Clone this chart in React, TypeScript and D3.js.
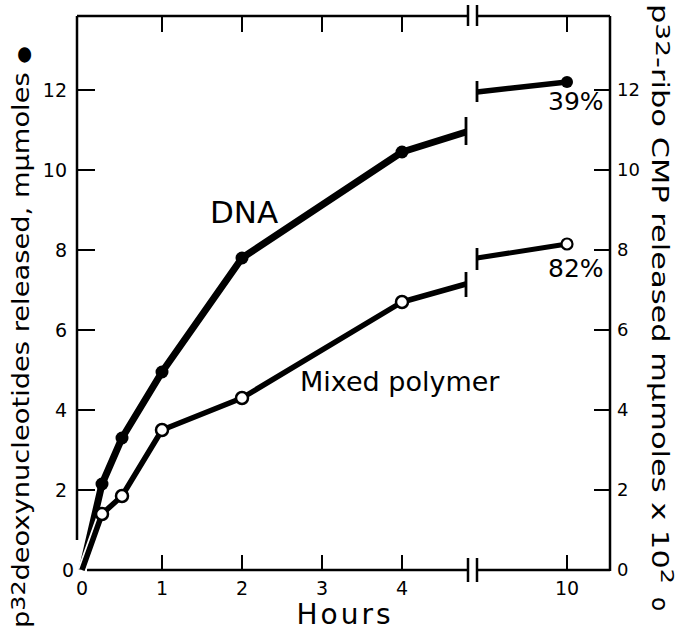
import React from "react";
import * as d3 from "d3";

// ---- data ----
const hoursEarly = [0, 0.25, 0.5, 1, 2, 4];
const dnaEarly = [0, 2.15, 3.3, 4.95, 7.8, 10.45];
const mixedEarly = [0, 1.4, 1.85, 3.5, 4.3, 6.7];
// line continuation before the axis break
const breakHour = 4.8;
const dnaBreak = 10.95;
const mixedBreak = 7.15;
// segment after the axis break
const resumeHour = 8;
const dnaResume = 11.95;
const mixedResume = 7.8;
const finalHour = 10;
const dnaFinal = 12.2;
const mixedFinal = 8.15;
const percentLabels = ["39%", "82%"];

const xTickValues = [0, 1, 2, 3, 4, 10];
const yTickValues = [0, 2, 4, 6, 8, 10, 12];

const FONT = "DejaVu Sans, sans-serif";

export default function App() {
  const W = 682;
  const H = 631;
  const x = d3.scaleLinear().domain([0, breakHour, resumeHour, finalHour]).range([82, 466, 477, 567]);
  const y = d3.scaleLinear().domain([0, 12]).range([570, 90]);

  const top = 16;
  const bottom = y(0);
  const left = 77;
  const right = 610;
  const brk1 = 468;
  const brk2 = 477;

  const line = d3.line<[number, number]>().x((d) => x(d[0])).y((d) => y(d[1]));

  const dnaPts: [number, number][] = hoursEarly.map((h, i) => [h, dnaEarly[i]]);
  const mixPts: [number, number][] = hoursEarly.map((h, i) => [h, mixedEarly[i]]);
  const dnaLeftPath = line([...dnaPts, [breakHour, dnaBreak]]);
  const mixLeftPath = line([...mixPts, [breakHour, mixedBreak]]);
  const dnaRightPath = line([[resumeHour, dnaResume], [finalHour, dnaFinal]]);
  const mixRightPath = line([[resumeHour, mixedResume], [finalHour, mixedFinal]]);

  return (
    <svg width={W} height={H} style={{ position: "absolute", left: 0, top: 0, background: "#fff" }} fontFamily={FONT}>
      <rect width={W} height={H} fill="#fff" />
      {/* frame */}
      <g stroke="#000" strokeWidth={2.5} fill="none">
        <line x1={left} y1={top} x2={left} y2={540} />
        <line x1={right} y1={top} x2={right} y2={bottom + 1} />
        <line x1={left} y1={top} x2={brk1} y2={top} />
        <line x1={brk2} y1={top} x2={right} y2={top} />
        <line x1={87} y1={bottom} x2={brk1} y2={bottom} />
        <line x1={brk2} y1={bottom} x2={right} y2={bottom} />
        {[brk1, brk2].map((bx) => (
          <g key={bx}>
            <line x1={bx} y1={top - 11} x2={bx} y2={top + 10} />
            <line x1={bx} y1={bottom - 12} x2={bx} y2={bottom + 12} />
          </g>
        ))}
        {xTickValues.filter((v) => v > 0).map((v) => (
          <g key={"xt" + v}>
            <line x1={x(v)} y1={bottom} x2={x(v)} y2={bottom - 15} strokeWidth={2} />
            <line x1={x(v)} y1={top} x2={x(v)} y2={top + 16} strokeWidth={2} />
          </g>
        ))}
        {yTickValues.filter((v) => v > 0).map((v) => (
          <g key={"yt" + v}>
            <line x1={left} y1={y(v)} x2={left + 18} y2={y(v)} strokeWidth={2} />
            <line x1={right} y1={y(v)} x2={right - 16} y2={y(v)} strokeWidth={2} />
          </g>
        ))}
      </g>

      {/* tick labels */}
      {xTickValues.map((v) => (
        <text key={"xl" + v} x={x(v)} y={595} fontSize={19} textAnchor="middle">{v}</text>
      ))}
      {yTickValues.map((v) => (
        <text key={"yl" + v} x={v === 0 ? 74 : 67} y={y(v) + 7} fontSize={19} textAnchor="end">{v}</text>
      ))}
      {yTickValues.map((v) => (
        <text key={"yr" + v} x={617} y={y(v) + 6} fontSize={18} textAnchor="start">{v}</text>
      ))}

      {/* axis titles */}
      <text x={345} y={624} fontSize={28} textAnchor="middle" letterSpacing={3}>Hours</text>
      <text transform="translate(29,628) rotate(-90)" fontSize={23} textLength={582} lengthAdjust="spacingAndGlyphs">
        p<tspan fontSize={20} dy={-4}>32</tspan><tspan dy={4}>deoxynucleotides released, mμmoles </tspan><tspan fontSize={17}>●</tspan>
      </text>
      <text transform="translate(652,4) rotate(90)" fontSize={23} textLength={580} lengthAdjust="spacingAndGlyphs">
        p<tspan fontSize={20} dy={-4}>32</tspan><tspan dy={4}>-ribo CMP released  mμmoles x 10</tspan><tspan fontSize={18} dy={-9}>2</tspan>
      </text>
      <text transform="translate(652,597) rotate(90)" fontSize={23}>o</text>

      {/* DNA series */}
      <path d={dnaLeftPath!} fill="none" stroke="#000" strokeWidth={7} strokeLinejoin="round" />
      <path d={dnaRightPath!} fill="none" stroke="#000" strokeWidth={5.5} />
      {/* Mixed polymer series with white halo */}
      <path d={mixLeftPath!} fill="none" stroke="#fff" strokeWidth={9} strokeLinejoin="round" />
      <path d={mixLeftPath!} fill="none" stroke="#000" strokeWidth={5.5} strokeLinejoin="round" />
      <path d={mixRightPath!} fill="none" stroke="#000" strokeWidth={5} />

      {/* break end bars */}
      <g stroke="#000" strokeWidth={2.8}>
        <line x1={x(breakHour)} y1={y(dnaBreak) - 15} x2={x(breakHour)} y2={y(dnaBreak) + 13} />
        <line x1={x(breakHour)} y1={y(mixedBreak) - 12} x2={x(breakHour)} y2={y(mixedBreak) + 13} />
        <line x1={x(resumeHour)} y1={y(dnaResume) - 11} x2={x(resumeHour)} y2={y(dnaResume) + 10} />
        <line x1={x(resumeHour)} y1={y(mixedResume) - 10} x2={x(resumeHour)} y2={y(mixedResume) + 12} />
      </g>

      {/* markers */}
      {dnaPts.slice(1).map((d, i) => (
        <circle key={"dm" + i} cx={x(d[0])} cy={y(d[1])} r={6.5} fill="#000" />
      ))}
      <circle cx={x(finalHour)} cy={y(dnaFinal)} r={6} fill="#000" />
      {mixPts.slice(1).map((d, i) => (
        <circle key={"mm" + i} cx={x(d[0])} cy={y(d[1])} r={6} fill="#fff" stroke="#000" strokeWidth={2.5} />
      ))}
      <circle cx={x(finalHour)} cy={y(mixedFinal)} r={5.5} fill="#fff" stroke="#000" strokeWidth={2.2} />

      {/* labels */}
      <text x={210} y={223} fontSize={31}>DNA</text>
      <text x={300} y={391} fontSize={27}>Mixed polymer</text>
      <text x={548} y={110} fontSize={25}>{percentLabels[0]}</text>
      <text x={548} y={277} fontSize={25}>{percentLabels[1]}</text>
    </svg>
  );
}
